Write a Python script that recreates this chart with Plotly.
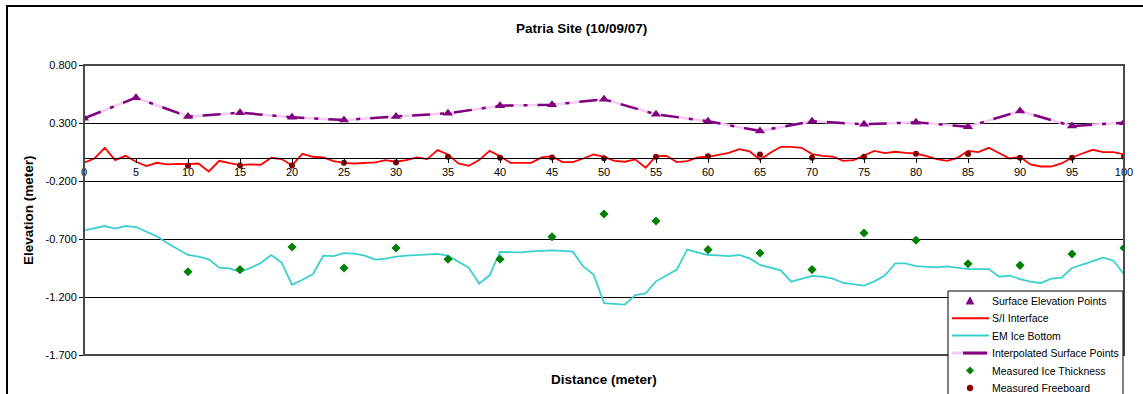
import plotly.graph_objects as go

# ---- data -------------------------------------------------------------
dist_1m = list(range(0, 101))
dist_5m = list(range(0, 101, 5))
dist_meas = list(range(10, 101, 5))

surface_elev = [0.340, 0.518, 0.355, 0.389, 0.349, 0.326, 0.357, 0.383, 0.449, 0.458,
                0.504, 0.375, 0.315, 0.231, 0.315, 0.289, 0.306, 0.268, 0.403, 0.274,
                0.303]

si_interface = [-0.043, -0.006, 0.086, -0.020, 0.017, -0.034, -0.072, -0.043, -0.057, -0.052,
                -0.055, -0.049, -0.118, -0.026, -0.046, -0.063, -0.057, -0.060, 0.000, -0.011,
                -0.066, 0.034, 0.009, 0.003, -0.029, -0.043, -0.049, -0.043, -0.040, -0.020,
                -0.034, -0.020, 0.003, -0.011, 0.066, 0.029, -0.049, -0.069, -0.020, 0.060,
                0.014, -0.043, -0.043, -0.043, 0.003, 0.014, -0.037, -0.037, -0.006, 0.029,
                0.009, -0.026, -0.034, -0.014, -0.086, 0.014, 0.017, -0.037, -0.029, 0.003,
                0.009, 0.029, 0.043, 0.075, 0.055, -0.017, 0.043, 0.095, 0.095, 0.086,
                0.032, 0.017, 0.011, -0.026, -0.020, 0.020, 0.060, 0.040, 0.052, 0.043,
                0.037, 0.014, -0.011, -0.026, 0.000, 0.060, 0.049, 0.086, 0.037, -0.006,
                0.009, -0.057, -0.075, -0.075, -0.049, 0.003, 0.037, 0.069, 0.049, 0.049,
                0.029]

em_ice_bottom = [-0.625, -0.605, -0.588, -0.611, -0.588, -0.597, -0.640, -0.677, -0.734, -0.786,
                 -0.838, -0.852, -0.875, -0.947, -0.953, -0.984, -0.950, -0.907, -0.838, -0.904,
                 -1.094, -1.051, -1.005, -0.844, -0.847, -0.821, -0.826, -0.844, -0.878, -0.870,
                 -0.852, -0.844, -0.838, -0.829, -0.829, -0.844, -0.895, -0.947, -1.085, -1.013,
                 -0.812, -0.812, -0.815, -0.806, -0.803, -0.798, -0.803, -0.809, -0.936, -1.007,
                 -1.252, -1.257, -1.266, -1.183, -1.169, -1.065, -1.013, -0.964, -0.792, -0.815,
                 -0.838, -0.841, -0.847, -0.838, -0.867, -0.924, -0.944, -0.970, -1.068, -1.042,
                 -1.019, -1.025, -1.042, -1.079, -1.088, -1.102, -1.065, -1.016, -0.910, -0.910,
                 -0.933, -0.936, -0.944, -0.936, -0.950, -0.959, -0.959, -0.959, -1.025, -1.016,
                 -1.045, -1.068, -1.079, -1.042, -1.033, -0.950, -0.921, -0.890, -0.861, -0.887,
                 -1.005]

ice_thickness = [-0.982, -0.964, -0.769, -0.950, -0.778, -0.875, -0.875, -0.680, -0.484, -0.545,
                 -0.792, -0.821, -0.964, -0.648, -0.711, -0.913, -0.927, -0.829, -0.778]

freeboard = [-0.069, -0.066, -0.066, -0.043, -0.040, 0.009, 0.000, 0.003, -0.003, 0.009,
             0.014, 0.029, 0.000, 0.009, 0.034, 0.032, 0.000, 0.000, 0.009]

y_ticks = [0.8, 0.3, -0.2, -0.7, -1.2, -1.7]
y_tick_text = ["0.800", "0.300", "-0.200", "-0.700", "-1.200", "-1.700"]
x_ticks = list(range(0, 101, 5))

legend_labels = ["Surface Elevation Points", "S/I Interface", "EM Ice Bottom",
                 "Interpolated Surface Points", "Measured Ice Thickness",
                 "Measured Freeboard"]

PURPLE = "#800080"
RED = "#FF0000"
CYAN = "#3CCFD0"
PINK = "#F6CDF2"
GREEN = "#008000"
MAROON = "#800000"
FONT = "Liberation Sans, Arial, sans-serif"

# figure geometry (pixels) and pixel -> paper helpers
W, H = 1143, 394
L, R, T, B = 84, 19, 65, 39
PW, PH = W - L - R, H - T - B


def px(x):
    return (x - L) / PW


def py(y):
    return 1 - (y - T) / PH


fig = go.Figure()

# light underlay that shows through the gaps of the dash-dot line
fig.add_trace(go.Scatter(x=dist_5m, y=surface_elev, mode="lines",
                         line=dict(color=PINK, width=2.5), hoverinfo="skip"))
fig.add_trace(go.Scatter(x=dist_5m, y=surface_elev, mode="lines",
                         name=legend_labels[3],
                         line=dict(color=PURPLE, width=2.5, dash="18px,10px,4px,10px")))
fig.add_trace(go.Scatter(x=dist_1m, y=si_interface, mode="lines", name=legend_labels[1],
                         line=dict(color=RED, width=1.8)))
fig.add_trace(go.Scatter(x=dist_1m, y=em_ice_bottom, mode="lines", name=legend_labels[2],
                         line=dict(color=CYAN, width=1.8)))
fig.add_trace(go.Scatter(x=dist_5m, y=surface_elev, mode="markers", name=legend_labels[0],
                         marker=dict(symbol="triangle-up", size=9, color=PURPLE)))
fig.add_trace(go.Scatter(x=dist_meas, y=ice_thickness, mode="markers", name=legend_labels[4],
                         marker=dict(symbol="diamond", size=7, color=GREEN)))
fig.add_trace(go.Scatter(x=dist_meas, y=freeboard, mode="markers", name=legend_labels[5],
                         marker=dict(symbol="circle", size=6, color=MAROON)))

shapes = []
# plot-area frame
shapes.append(dict(type="rect", xref="paper", yref="paper", x0=0, x1=1, y0=0, y1=1,
                   line=dict(color="#4a4a4a", width=2), layer="above"))
# chart-area frame
shapes.append(dict(type="rect", xref="paper", yref="paper", x0=px(7), x1=px(1150),
                   y0=py(420), y1=py(6), line=dict(color="black", width=2)))

# legend box
LEG_L, LEG_R, LEG_T = 948, 1123, 291
shapes.append(dict(type="rect", xref="paper", yref="paper", x0=px(LEG_L), x1=px(LEG_R),
                   y0=py(420), y1=py(LEG_T), fillcolor="white",
                   line=dict(color="black", width=1), layer="above"))

row_y = [LEG_T + 9.7 + 17.45 * i for i in range(len(legend_labels))]
SYM_X0, SYM_X1, SYM_C = 952, 989, 970


def hline(y, x0, x1, color, width):
    return dict(type="line", xref="paper", yref="paper", x0=px(x0), x1=px(x1),
                y0=py(y), y1=py(y), line=dict(color=color, width=width), layer="above")


def poly(points, color):
    path = "M " + " L ".join(f"{px(x):.5f},{py(y):.5f}" for x, y in points) + " Z"
    return dict(type="path", xref="paper", yref="paper", path=path, fillcolor=color,
                line=dict(color=color, width=0.5), layer="above")


y0 = row_y[0]
shapes.append(poly([(SYM_C - 4, y0 + 3.5), (SYM_C + 4, y0 + 3.5), (SYM_C, y0 - 4)], PURPLE))
shapes.append(hline(row_y[1], SYM_X0, SYM_X1, RED, 2))
shapes.append(hline(row_y[2], SYM_X0, SYM_X1, CYAN, 2))
shapes.append(hline(row_y[3], SYM_X0, SYM_X1, PINK, 3))
shapes.append(hline(row_y[3], 963, 987, PURPLE, 3))
y4 = row_y[4]
shapes.append(poly([(SYM_C, y4 - 3.8), (SYM_C + 3.8, y4), (SYM_C, y4 + 3.8), (SYM_C - 3.8, y4)],
                   GREEN))
y5 = row_y[5]
shapes.append(dict(type="circle", xref="paper", yref="paper",
                   x0=px(SYM_C - 3), x1=px(SYM_C + 3), y0=py(y5 + 3), y1=py(y5 - 3),
                   fillcolor=MAROON, line=dict(color=MAROON, width=0.5), layer="above"))

annotations = [
    dict(text="<b>Patria Site (10/09/07)</b>", xref="paper", yref="paper",
         x=px(581), y=py(28), showarrow=False,
         font=dict(size=13.5), xanchor="center", yanchor="middle"),
    dict(text="<b>Distance (meter)</b>", xref="paper", yref="paper",
         x=px(604), y=py(379), showarrow=False,
         font=dict(size=13.5), xanchor="center", yanchor="middle"),
    dict(text="<b>Elevation (meter)</b>", xref="paper", yref="paper",
         x=px(28), y=py(210), showarrow=False,
         textangle=-90, font=dict(size=13.5), xanchor="center", yanchor="middle"),
]
for label, yy in zip(legend_labels, row_y):
    annotations.append(dict(text=label, xref="paper", yref="paper", x=px(990), y=py(yy),
                            showarrow=False, xanchor="left", yanchor="middle",
                            font=dict(size=10.5)))

fig.update_layout(
    width=W, height=H,
    margin=dict(l=L, r=R, t=T, b=B, autoexpand=False),
    paper_bgcolor="white", plot_bgcolor="white",
    font=dict(family=FONT, color="black", size=11),
    showlegend=False,
    xaxis=dict(range=[0, 100], tickvals=x_ticks, showgrid=False, zeroline=False,
               showline=True, linecolor="black", linewidth=1,
               ticks="outside", ticklen=4, tickcolor="black",
               anchor="free", position=1.7 / 2.5,
               tickfont=dict(size=11)),
    yaxis=dict(range=[-1.7, 0.8], tickvals=y_ticks, ticktext=y_tick_text,
               showgrid=True, gridcolor="black", gridwidth=1, zeroline=False,
               showline=True, linecolor="black", linewidth=1,
               ticks="outside", ticklen=4, tickcolor="black",
               tickfont=dict(size=11)),
    shapes=shapes,
    annotations=annotations,
)

fig.write_html("out.html")
